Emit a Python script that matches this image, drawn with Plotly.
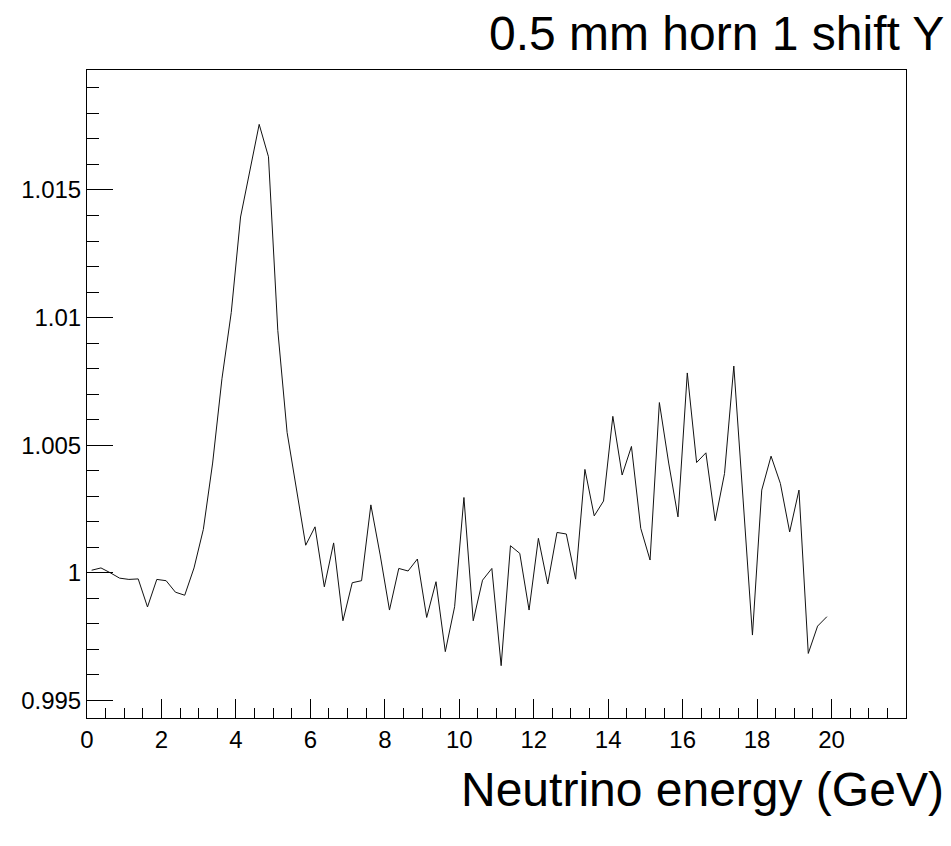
import plotly.graph_objects as go

# bin centres (GeV), 0.25 GeV bins
energy = [0.125 + 0.25 * i for i in range(80)]
ratio = [
    1.0001, 1.00019, 1.0000, 0.99979, 0.99974, 0.99976, 0.99866, 0.99974, 0.99969, 0.99924,
    0.99912, 1.00019, 1.0017, 1.0043, 1.0076, 1.0102, 1.01394, 1.0158, 1.01757, 1.0163,
    1.0095, 1.0055, 1.0032, 1.00108, 1.0018, 0.99945, 1.00117, 0.99812, 0.99961, 0.99969,
    1.00266, 1.0007, 0.99854, 1.00017, 1.00007, 1.00054, 0.99825, 0.99965, 0.99691, 0.99867,
    1.00295, 0.99812, 0.99971, 1.00017, 0.99636, 1.00106, 1.00076, 0.99854, 1.00135, 0.99956,
    1.00158, 1.00152, 0.99975, 1.00405, 1.00223, 1.00281, 1.00613, 1.00383, 1.00495, 1.00174,
    1.0005, 1.00667, 1.0043, 1.00219, 1.00783, 1.00432, 1.0047, 1.00204, 1.00389, 1.0081,
    1.00285, 0.99756, 1.00324, 1.00457, 1.0035, 1.0016, 1.00324, 0.99684, 0.99791, 0.99828,
]

x_tickvals = [0, 2, 4, 6, 8, 10, 12, 14, 16, 18, 20]
x_ticktext = ["0", "2", "4", "6", "8", "10", "12", "14", "16", "18", "20"]
y_tickvals = [0.995, 1.0, 1.005, 1.01, 1.015]
y_ticktext = ["0.995", "1", "1.005", "1.01", "1.015"]

title_text = "0.5 mm horn 1 shift Y"
xaxis_title = "Neutrino energy (GeV)"

FONT = "Liberation Sans, Arial, Helvetica, sans-serif"

fig = go.Figure()
fig.add_trace(go.Scatter(
    x=energy, y=ratio, mode="lines",
    line=dict(color="#111111", width=1),
    showlegend=False, hoverinfo="skip",
))

fig.update_layout(
    width=951, height=846,
    margin=dict(l=87, r=45, t=70, b=128, pad=0),
    paper_bgcolor="white", plot_bgcolor="white",
    font=dict(family=FONT, color="black", size=24),
    showlegend=False,
    xaxis=dict(
        range=[0, 22], showgrid=False, zeroline=False,
        showline=True, linecolor="black", linewidth=1, mirror=True,
        tickmode="array", tickvals=x_tickvals, ticktext=x_ticktext,
        ticks="inside", ticklen=19, tickwidth=1, tickcolor="black",
        tickfont=dict(family=FONT, size=24, color="black"),
        minor=dict(tickmode="linear", tick0=0, dtick=0.5, ticks="inside",
                   ticklen=10, tickwidth=1, tickcolor="black", showgrid=False),
    ),
    yaxis=dict(
        range=[0.99431, 1.0197], showgrid=False, zeroline=False,
        showline=True, linecolor="black", linewidth=1, mirror=True,
        tickmode="array", tickvals=y_tickvals, ticktext=y_ticktext,
        ticks="inside", ticklen=26, tickwidth=1, tickcolor="black",
        tickfont=dict(family=FONT, size=24, color="black"),
        minor=dict(tickmode="linear", tick0=0.995, dtick=0.001, ticks="inside",
                   ticklen=12, tickwidth=1, tickcolor="black", showgrid=False),
    ),
    annotations=[
        dict(text=title_text, xref="paper", yref="paper",
             x=(946 - 87) / 819, y=(718 - 33) / 648,
             xanchor="right", yanchor="middle", showarrow=False,
             font=dict(family=FONT, size=48, color="black")),
        dict(text=xaxis_title, xref="paper", yref="paper",
             x=(946 - 87) / 819, y=(718 - 789) / 648,
             xanchor="right", yanchor="middle", showarrow=False,
             font=dict(family=FONT, size=48, color="black")),
    ],
)

fig.write_html("out.html")
